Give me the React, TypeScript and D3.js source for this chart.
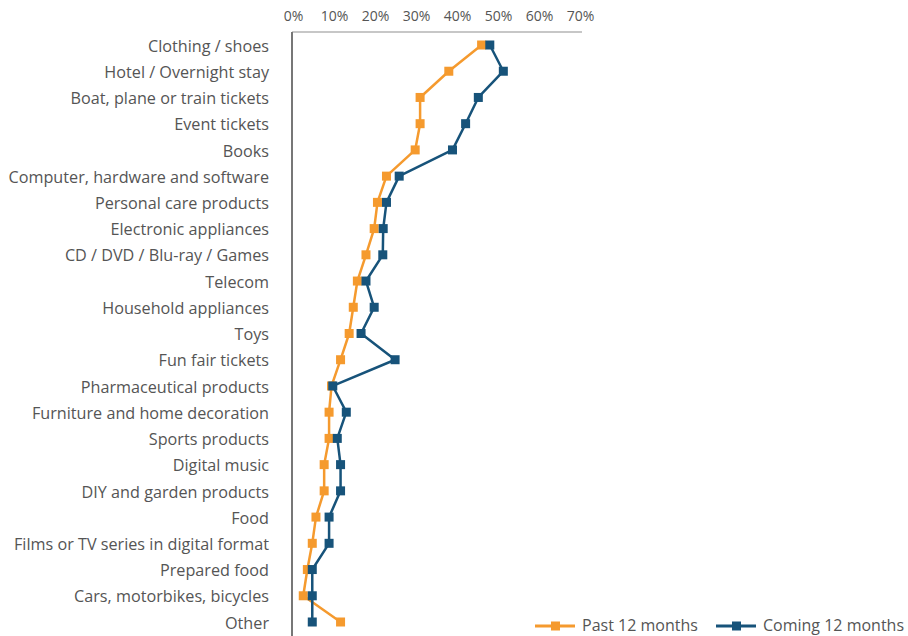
import { useEffect, useRef } from 'react'
import * as d3 from 'd3'

const categories = [
  'Clothing / shoes',
  'Hotel / Overnight stay',
  'Boat, plane or train tickets',
  'Event tickets',
  'Books',
  'Computer, hardware and software',
  'Personal care products',
  'Electronic appliances',
  'CD / DVD / Blu-ray / Games',
  'Telecom',
  'Household appliances',
  'Toys',
  'Fun fair tickets',
  'Pharmaceutical products',
  'Furniture and home decoration',
  'Sports products',
  'Digital music',
  'DIY and garden products',
  'Food',
  'Films or TV series in digital format',
  'Prepared food',
  'Cars, motorbikes, bicycles',
  'Other',
]

const pastValues = [46, 38, 31, 31, 29.8, 22.8, 20.6, 19.8, 17.8, 15.7, 14.7, 13.7, 11.6, 9.4, 8.8, 8.8, 7.6, 7.6, 5.6, 4.7, 3.5, 2.5, 11.6]
const comingValues = [48, 51.3, 45.2, 42.1, 38.9, 25.9, 22.8, 22, 21.9, 17.8, 19.8, 16.6, 24.9, 9.7, 13, 10.8, 11.6, 11.6, 8.8, 8.8, 4.7, 4.7, 4.7]

const xTicks = [0, 10, 20, 30, 40, 50, 60, 70]

const seriesNames = ['Past 12 months', 'Coming 12 months']
const COLORS = { past: '#f59a2e', coming: '#17537a', text: '#555555' }

const WIDTH = 908
const HEIGHT = 636
const FONT = '"Open Sans", sans-serif'

function App() {
  const ref = useRef<SVGSVGElement | null>(null)

  useEffect(() => {
    if (!ref.current) return
    const svg = d3.select(ref.current)
    svg.selectAll('*').remove()

    const x = d3.scaleLinear().domain([0, 70]).range([293, 580])
    const y = d3.scalePoint<string>().domain(categories).range([45, 622])

    // frame: light top line, darker left line
    svg.append('line')
      .attr('x1', x(0) - 1).attr('x2', x(70) + 2)
      .attr('y1', 32).attr('y2', 32)
      .attr('stroke', '#b5b5b5').attr('stroke-width', 1.5)
    svg.append('line')
      .attr('x1', x(0) - 1).attr('x2', x(0) - 1)
      .attr('y1', 32).attr('y2', HEIGHT)
      .attr('stroke', '#777').attr('stroke-width', 2)

    // top tick labels
    const axis = svg.append('g')
      .attr('transform', 'translate(0,21)')
      .call(d3.axisTop(x).tickValues(xTicks).tickSize(0).tickPadding(0).tickFormat(d => `${d}%`))
    axis.select('.domain').remove()
    axis.selectAll('text')
      .attr('fill', COLORS.text)
      .attr('font-size', '14px')
      .attr('font-family', FONT)

    // category labels
    svg.append('g')
      .selectAll('text')
      .data(categories)
      .enter()
      .append('text')
      .attr('x', 269)
      .attr('y', d => y(d)! + 1)
      .attr('dy', '0.35em')
      .attr('text-anchor', 'end')
      .attr('fill', COLORS.text)
      .attr('font-size', '16.2px')
      .attr('font-family', FONT)
      .text(d => d)

    const line = d3.line<number>()
      .x(d => x(d))
      .y((_, i) => y(categories[i])!)

    const series = [
      { values: pastValues, color: COLORS.past },
      { values: comingValues, color: COLORS.coming },
    ]

    series.forEach(s => {
      svg.append('path')
        .datum(s.values)
        .attr('fill', 'none')
        .attr('stroke', s.color)
        .attr('stroke-width', 2.5)
        .attr('stroke-linejoin', 'round')
        .attr('d', line)

      svg.append('g')
        .selectAll('rect')
        .data(s.values)
        .enter()
        .append('rect')
        .attr('x', d => x(d) - 4.5)
        .attr('y', (_, i) => y(categories[i])! - 4.5)
        .attr('width', 9)
        .attr('height', 9)
        .attr('fill', s.color)
    })

    // legend
    const legendItems = [
      { name: seriesNames[0], color: COLORS.past, x: 535 },
      { name: seriesNames[1], color: COLORS.coming, x: 716 },
    ]
    const legend = svg.append('g').attr('transform', 'translate(0,626)')
    legendItems.forEach(item => {
      legend.append('line')
        .attr('x1', item.x).attr('x2', item.x + 40)
        .attr('y1', 0).attr('y2', 0)
        .attr('stroke', item.color).attr('stroke-width', 3)
      legend.append('rect')
        .attr('x', item.x + 16).attr('y', -4.5)
        .attr('width', 9).attr('height', 9)
        .attr('fill', item.color)
      legend.append('text')
        .attr('x', item.x + 47)
        .attr('y', -1)
        .attr('dy', '0.35em')
        .attr('fill', COLORS.text)
        .attr('font-size', '16px')
        .attr('font-family', FONT)
        .text(item.name)
    })
  }, [])

  return (
    <div style={{ position: 'absolute', left: 0, top: 0, width: WIDTH, height: HEIGHT, background: '#fff' }}>
      <svg ref={ref} width={WIDTH} height={HEIGHT} />
    </div>
  )
}

export default App
